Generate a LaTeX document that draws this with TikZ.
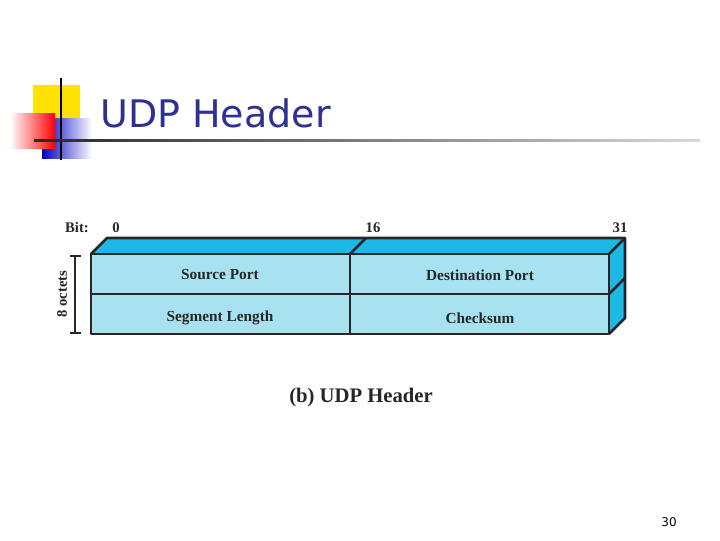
\documentclass[tikz,border=0pt]{standalone}
\usepackage{fontspec}
\setmainfont{Liberation Serif}
\newfontfamily\titlefont{DejaVu Sans}
\usetikzlibrary{calc}
\definecolor{front}{HTML}{A8E2F1}
\definecolor{side}{HTML}{1CB8E6}
\definecolor{titleblue}{HTML}{2E3192}
\begin{document}
\begin{tikzpicture}[x=0.75pt,y=-0.75pt,
  face/.style={draw=black!85,line width=2pt,line join=round},
  lbl/.style={font=\bfseries\fontsize{11.5}{13}\selectfont,text=black!85},
  bit/.style={font=\bfseries\fontsize{11}{12}\selectfont,text=black!85}]
\useasboundingbox (0,0) rectangle (720,540);
% logo
\fill[yellow!85!orange] (33,85) rectangle (80,118);
\shade[left color=blue!75!black, right color=white] (42,118) rectangle (92,158);
\shade[left color=white, right color=red] (10,113) rectangle (55,148);
\draw[line width=1.5pt] (61,78) -- (61,160);
\shade[left color=black!85, right color=black!15] (34,139) rectangle (700,141.5);
\node[anchor=base west,inner sep=0,font=\titlefont\fontsize{28.5}{34}\selectfont,text=titleblue] (title) at (100,127) {UDP Header};
% box
\fill[side] (91,254) -- (107,238) -- (625,238) -- (609,254) -- cycle;
\fill[side] (609,254) -- (625,238) -- (625,318) -- (609,334) -- cycle;
\fill[front] (91,254) rectangle (609,334);
\draw[face] (91,254) -- (107,238) -- (625,238) -- (625,318) -- (609,334);
\draw[face] (609,254) -- (625,238);
\draw[face] (350,254) -- (366,238);
\draw[face] (609,294) -- (625,278);
\draw[face] (91,254) rectangle (609,334);
\draw[face] (91,294) -- (609,294);
\draw[face] (350,254) -- (350,334);
\node[lbl] (sp) at (220,275) {Source Port};
\node[lbl] (dp) at (480,275) {Destination Port};
\node[lbl] (sl) at (220,318) {Segment Length};
\node[lbl] (cs) at (480,318) {Checksum};
\node[bit] (bitl) at (77,228) {Bit:};
\node[bit] (b0) at (116,228) {0};
\node[bit] (b16) at (373,228) {16};
\node[bit] (b31) at (620,228) {31};
\draw[line width=1.5pt,black!85] (70,256) -- (81,256) (75,256) -- (75,333) (70,333) -- (81,333);
\node[bit,rotate=90] (oct) at (62,294) {8 octets};
\node[font=\bfseries\fontsize{15.5}{18}\selectfont,text=black!85] (cap) at (361,398) {(b) UDP Header};
\node[font=\titlefont\fontsize{9}{10}\selectfont] (pg) at (669,522) {30};
\end{tikzpicture}
\end{document}
